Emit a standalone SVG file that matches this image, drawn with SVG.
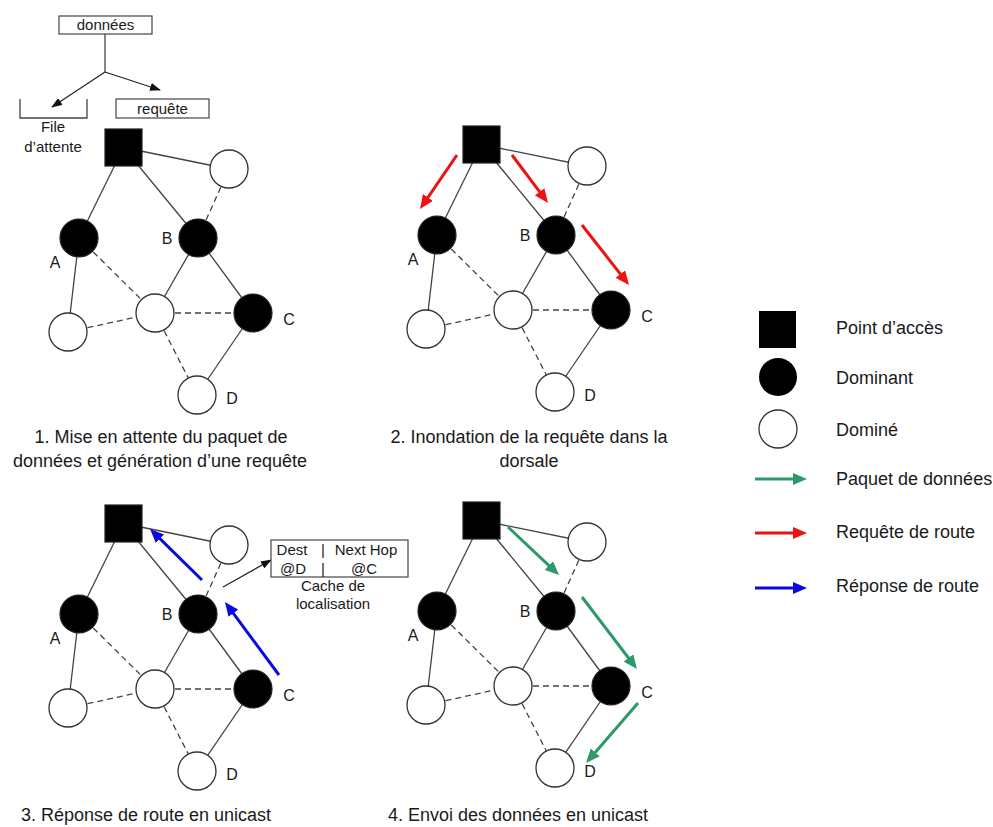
<svg xmlns="http://www.w3.org/2000/svg" width="993" height="827" viewBox="0 0 993 827">
<defs>
<style>
.e{stroke:#444;stroke-width:1.3;fill:none}
.d{stroke:#444;stroke-width:1.3;fill:none;stroke-dasharray:6 4}
.bk{fill:#000;stroke:#222;stroke-width:1.2}
.wh{fill:#fff;stroke:#333;stroke-width:1.3}
.t{font-family:"Liberation Sans",Arial,sans-serif;fill:#1a1a1a}
.cap{font-size:18px;text-anchor:middle}
.lbl{font-size:16px;text-anchor:middle}
.sm{font-size:15px;text-anchor:middle}
.lg{font-size:18px}
.red{stroke:#ee1111;stroke-width:3;fill:none;marker-end:url(#mr)}
.blue{stroke:#0a0ae0;stroke-width:3;fill:none;marker-end:url(#mb)}
.green{stroke:#2e9968;stroke-width:3;fill:none;marker-end:url(#mg)}
.thin{stroke:#222;stroke-width:1.2;fill:none;marker-end:url(#mk)}
</style>
<marker id="mr" markerUnits="userSpaceOnUse" markerWidth="14" markerHeight="12" viewBox="0 0 14 12" refX="2" refY="6" orient="auto"><path d="M0,0 L14,6 L0,12 z" fill="#ee1111"/></marker>
<marker id="mb" markerUnits="userSpaceOnUse" markerWidth="14" markerHeight="12" viewBox="0 0 14 12" refX="2" refY="6" orient="auto"><path d="M0,0 L14,6 L0,12 z" fill="#0a0ae0"/></marker>
<marker id="mg" markerUnits="userSpaceOnUse" markerWidth="14" markerHeight="12" viewBox="0 0 14 12" refX="2" refY="6" orient="auto"><path d="M0,0 L14,6 L0,12 z" fill="#2e9968"/></marker>
<marker id="mk" markerUnits="userSpaceOnUse" markerWidth="11" markerHeight="8" viewBox="0 0 11 8" refX="10" refY="4" orient="auto"><path d="M0,0 L11,4 L0,8 z" fill="#111"/></marker>
<g id="net">
<g id="net-edges">
<line class="e" x1="123.5" y1="147.5" x2="229" y2="169"/>
<line class="e" x1="123.5" y1="147.5" x2="79" y2="238"/>
<line class="e" x1="123.5" y1="147.5" x2="198" y2="238"/>
<line class="e" x1="79" y1="238" x2="68" y2="332"/>
<line class="e" x1="198" y1="238" x2="155" y2="313"/>
<line class="e" x1="198" y1="238" x2="253" y2="313"/>
<line class="e" x1="253" y1="313" x2="197" y2="395"/>
<line class="d" x1="229" y1="169" x2="198" y2="238"/>
<line class="d" x1="79" y1="238" x2="155" y2="313"/>
<line class="d" x1="68" y1="332" x2="155" y2="313"/>
<line class="d" x1="155" y1="313" x2="253" y2="313"/>
<line class="d" x1="155" y1="313" x2="197" y2="395"/>
</g>
<rect class="bk" x="105" y="129" width="37" height="37"/>
<circle class="wh" cx="229" cy="169" r="19"/>
<circle class="bk" cx="79" cy="238" r="19"/>
<circle class="bk" cx="198" cy="238" r="19"/>
<circle class="wh" cx="155" cy="313" r="19"/>
<circle class="bk" cx="253" cy="313" r="19"/>
<circle class="wh" cx="68" cy="332" r="19"/>
<circle class="wh" cx="197" cy="395" r="19"/>
<text class="t lbl" x="55" y="268">A</text>
<text class="t lbl" x="167" y="244">B</text>
<text class="t lbl" x="289" y="325">C</text>
<text class="t lbl" x="232" y="404">D</text>
</g>
</defs>

<g id="panel1">
<use href="#net"/>
<g id="queue-inset">
<rect x="59" y="16" width="93" height="18" fill="#fff" stroke="#444" stroke-width="1.2"/>
<text class="t sm" x="105.5" y="30">données</text>
<path class="e" d="M105,34 V72"/>
<path class="thin" d="M105,72 L52,107"/>
<path class="thin" d="M105,72 L160,90"/>
<path class="e" d="M20,99 V118 H87 V99"/>
<text class="t sm" x="53" y="132">File</text>
<text class="t sm" x="53" y="152">d’attente</text>
<rect x="116" y="99" width="93" height="19" fill="#fff" stroke="#444" stroke-width="1.2"/>
<text class="t sm" x="162.5" y="114">requête</text>
</g>
<text class="t cap" x="161" y="443">1. Mise en attente du paquet de</text>
<text class="t cap" x="160" y="467">données et génération d’une requête</text>
</g>

<g id="panel2">
<use href="#net" transform="translate(358,-3)"/>
<g id="p2-arrows">
<line class="red" x1="457" y1="155" x2="426.8" y2="199.1"/>
<line class="red" x1="512" y1="155" x2="540.8" y2="193.4"/>
<line class="red" x1="582" y1="225" x2="621.6" y2="275.6"/>
</g>
<text class="t cap" x="529" y="443">2. Inondation de la requête dans la</text>
<text class="t cap" x="529" y="467">dorsale</text>
</g>

<g id="panel3">
<use href="#net" transform="translate(0,376)"/>
<g id="p3-arrows">
<line class="blue" x1="202" y1="580" x2="158.6" y2="537.4"/>
<line class="blue" x1="279" y1="675" x2="232.1" y2="611.6"/>
<path class="thin" d="M223,587 L271,560"/>
</g>
<g id="cache">
<rect x="271" y="540" width="137" height="37" fill="#fff" stroke="#555" stroke-width="1.3"/>
<text class="t sm" x="292" y="555">Dest</text>
<text class="t sm" x="323" y="555">|</text>
<text class="t sm" x="366" y="555">Next Hop</text>
<text class="t sm" x="293" y="574">@D</text>
<text class="t sm" x="323" y="574">|</text>
<text class="t sm" x="364" y="574">@C</text>
<text class="t sm" x="333" y="591">Cache de</text>
<text class="t sm" x="333" y="609">localisation</text>
</g>
<text class="t cap" x="146" y="821">3. Réponse de route en unicast</text>
</g>

<g id="panel4">
<use href="#net" transform="translate(358,373)"/>
<g id="p4-arrows">
<line class="green" x1="508" y1="527" x2="550.3" y2="566.8"/>
<line class="green" x1="582" y1="597" x2="629.7" y2="659.5"/>
<line class="green" x1="638" y1="703" x2="593.9" y2="753.9"/>
</g>
<text class="t cap" x="518" y="821">4. Envoi des données en unicast</text>
</g>

<g id="legend">
<rect x="759" y="311" width="37" height="37" fill="#000"/>
<text class="t lg" x="836" y="334">Point d’accès</text>
<circle cx="778" cy="377" r="19" fill="#000"/>
<text class="t lg" x="836" y="384">Dominant</text>
<circle class="wh" cx="778" cy="429" r="19"/>
<text class="t lg" x="836" y="436">Dominé</text>
<line class="green" x1="755" y1="479" x2="795" y2="479"/>
<text class="t lg" x="836" y="485">Paquet de données</text>
<line class="red" x1="755" y1="533" x2="795" y2="533"/>
<text class="t lg" x="836" y="538">Requête de route</text>
<line class="blue" x1="755" y1="588" x2="795" y2="588"/>
<text class="t lg" x="836" y="592">Réponse de route</text>
</g>
</svg>
